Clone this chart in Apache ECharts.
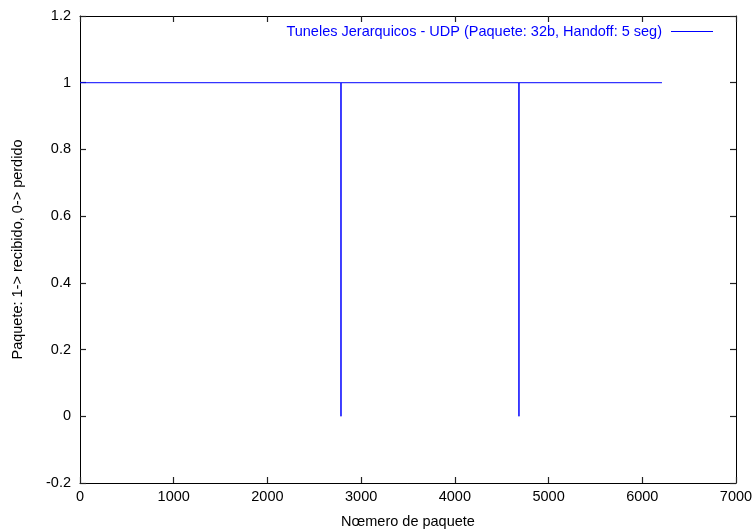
<!DOCTYPE html>
<html>
<head>
<meta charset="utf-8">
<script src="https://cdn.jsdelivr.net/npm/echarts@6/dist/echarts.min.js"></script>
<style>
  html, body { margin: 0; padding: 0; background: #fff; }
  #main { width: 755px; height: 532px; }
</style>
</head>
<body>
<div id="main"></div>
<script>
// packet number, received flag (1 = received, 0 = lost)
var packetNo = [0, 2784, 2785, 2786, 4683, 4684, 4685, 6210];
var received = [1, 1, 0, 1, 1, 0, 1, 1];
var seriesName = 'Tuneles Jerarquicos - UDP (Paquete: 32b, Handoff: 5 seg)';

var points = packetNo.map(function (n, i) { return [n, received[i]]; });

var font = 'Liberation Sans, Arial, sans-serif';
var fs = 14.5;
function ticks() {
  return { show: true, inside: true, length: 6, lineStyle: { color: '#222', width: 1.2 } };
}
function axLine() {
  return { show: true, onZero: false, lineStyle: { color: '#000', width: 1 } };
}

var myChart = echarts.init(document.getElementById('main'));
myChart.setOption({
  animation: false,
  grid: { left: 80, top: 16, right: 19, bottom: 49, outerBoundsMode: 'none' },
  legend: {
    data: [seriesName],
    right: 37,
    top: 19,
    align: 'right',
    icon: 'rect',
    itemWidth: 42,
    itemHeight: 1,
    textStyle: { color: '#0000ff', fontFamily: font, fontSize: fs, padding: [0, 4, 0, 0] }
  },
  xAxis: [
    {
      type: 'value', min: 0, max: 7000, interval: 1000, position: 'bottom',
      name: 'Nœmero de paquete', nameLocation: 'middle', nameGap: 31,
      nameTextStyle: { color: '#000', fontFamily: font, fontSize: fs },
      axisLine: axLine(), axisTick: ticks(), splitLine: { show: false },
      axisLabel: {
        color: '#000', fontFamily: font, fontSize: fs, margin: 6,
        formatter: function (v) { return String(v); }
      }
    },
    {
      type: 'value', min: 0, max: 7000, interval: 1000, position: 'top',
      axisLine: axLine(), axisTick: ticks(), splitLine: { show: false },
      axisLabel: { show: false }
    }
  ],
  yAxis: [
    {
      type: 'value', min: -0.2, max: 1.2, interval: 0.2, position: 'left',
      name: 'Paquete: 1-> recibido, 0-> perdido', nameLocation: 'middle', nameGap: 55,
      nameTextStyle: { color: '#000', fontFamily: font, fontSize: fs },
      axisLine: axLine(), axisTick: ticks(), splitLine: { show: false },
      axisLabel: {
        color: '#000', fontFamily: font, fontSize: fs, margin: 9,
        formatter: function (v) { return String(parseFloat(v.toFixed(1))); }
      }
    },
    {
      type: 'value', min: -0.2, max: 1.2, interval: 0.2, position: 'right',
      axisLine: axLine(), axisTick: ticks(), splitLine: { show: false },
      axisLabel: { show: false }
    }
  ],
  series: [
    {
      name: seriesName,
      type: 'line',
      data: points,
      symbol: 'none',
      color: '#0000ff',
      lineStyle: { color: '#0000ff', width: 1 }
    }
  ]
});
</script>
</body>
</html>
